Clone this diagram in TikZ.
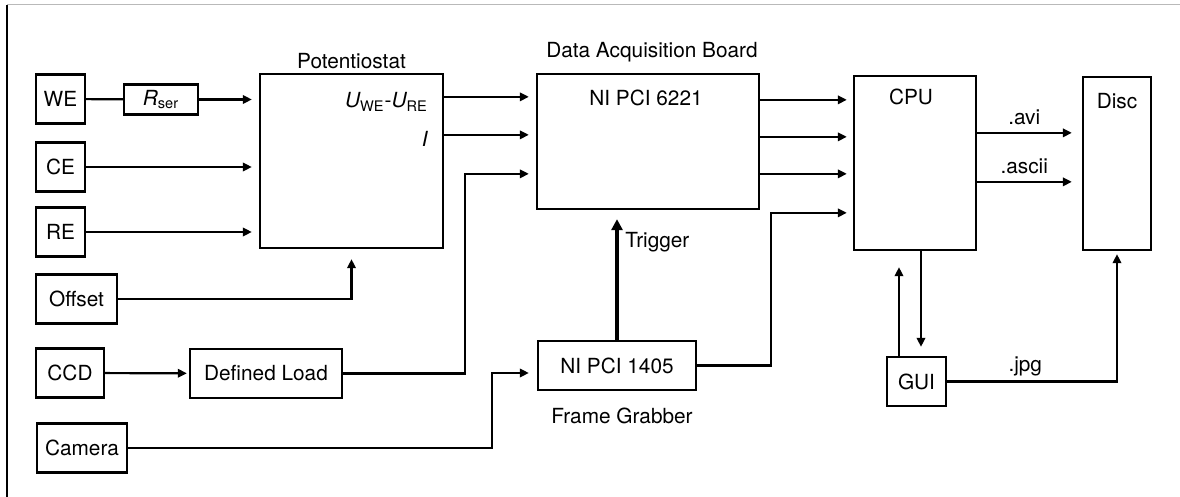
\documentclass[tikz,border=0pt]{standalone}
\usepackage{fontspec}
\setmainfont{TeX Gyre Heros}
\usepackage{tikz}
\usetikzlibrary{arrows.meta,positioning}

\begin{document}
\begin{tikzpicture}[
  x=0.5pt, y=-0.5pt,
  font=\fontsize{10.4}{12}\selectfont,
  box/.style={draw, line width=1.15pt, minimum height=24.5pt, inner sep=0pt},
  txt/.style={inner sep=0pt, text height=7.3pt, text depth=0pt},
  wire/.style={line width=1.1pt},
  arr/.style={-{Triangle[length=4.5pt,width=4.2pt]}, line width=1.1pt},
  trig/.style={-{Triangle[length=5.5pt,width=5.5pt]}, line width=2pt}
]
\useasboundingbox (0,0) rectangle (1180,497);
\draw[gray!55, line width=0.5pt] (7,5) -- (1180,5);
\draw[line width=0.6pt] (7,5) -- (7,497);

% inputs
\node[box, minimum width=24.5pt] (we) at (60.5,99) {WE};
\node[box, minimum width=37pt, minimum height=15pt] (rser) at (161,99.5) {{\itshape R}\textsubscript{ser}};
\node[box, minimum width=24.5pt] (ce) at (60.5,167) {CE};
\node[box, minimum width=24.5pt] (re) at (60.5,232) {RE};
\node[box, minimum width=40.5pt] (offset) at (76.5,299) {Offset};
\node[box, minimum width=34pt] (ccd) at (70,373) {CCD};
\node[box, minimum width=76pt] (load) at (266,373.5) {Defined Load};
\node[box, minimum width=45pt] (camera) at (82,448) {Camera};

% potentiostat
\node[box, minimum width=91.5pt, minimum height=87pt] (pot) at (351.5,161) {};
\node[txt, above=2pt of pot] (potlbl) {Potentiostat};
\node[txt, below left=10pt and 8pt of pot.north east] (uwe) {{\itshape U}\textsubscript{WE}-{\itshape U}\textsubscript{RE}};
\node[txt, below left=29.5pt and 8pt of pot.north east] (ilbl) {\itshape I};

% data acquisition
\node[box, minimum width=111pt, minimum height=67.5pt] (daq) at (648,141.5) {};
\node[txt, above=7.5pt of daq, xshift=2pt] (daqlbl) {Data Acquisition Board};
\node[txt, below=9pt of daq.north, xshift=-1pt] (daqname) {NI PCI 6221};
\node[box, minimum width=79pt] (fg) at (617,365.5) {NI PCI 1405};
\node[txt, below=8.5pt of fg, xshift=2.5pt] (fglbl) {Frame Grabber};
\node[txt, above right=46pt and 4pt of fg.north] (triglbl) {Trigger};

% computer
\node[box, minimum width=61pt, minimum height=87pt] (cpu) at (915,163) {};
\node[txt, below=7.5pt of cpu.north, xshift=-2pt] (cpulbl) {CPU};
\node[box, minimum width=34pt, minimum height=86.5pt] (disc) at (1117,163.5) {};
\node[txt, below=9pt of disc.north] (disclbl) {Disc};
\node[box, minimum width=29.5pt] (gui) at (916.5,381.5) {GUI};

\coordinate (uout) at ([yshift=-12pt]pot.north east);
\coordinate (iout) at ([yshift=-31pt]pot.north east);
\coordinate (ldin) at ([yshift=-50.5pt]daq.north west);
\coordinate (fgin) at ([yshift=-3.75pt]fg.west);
\coordinate (cpuin) at ([yshift=-69pt]cpu.north west);

\draw[wire] (we) -- (rser);
\draw[arr, shorten >=3.5pt] (rser) -- (rser -| pot.west);
\draw[arr, shorten >=3.5pt] (ce) -- (ce -| pot.west);
\draw[arr, shorten >=3.5pt] (re) -- (re -| pot.west);
\draw[arr, shorten >=5pt] (offset) -| (pot);
\draw[arr, shorten >=1pt] (ccd) -- (load);
\draw[arr, shorten >=3.5pt] (uout) -- (uout -| daq.west);
\draw[arr, shorten >=3.5pt] (iout) -- (iout -| daq.west);
\draw[arr, shorten >=3.5pt] (load) -| ([xshift=-35.5pt]ldin) -- (ldin);
\draw[arr, shorten >=4pt] (camera) -| ([xshift=-22.5pt]fgin) -- (fgin);
\draw[trig, shorten >=4.5pt] (fg) -- (fg |- daq.south);
\draw[arr, shorten >=3pt] ([yshift=-13.5pt]daq.north east) coordinate (d1) -- (d1 -| cpu.west);
\draw[arr, shorten >=3pt] ([yshift=-32pt]daq.north east) coordinate (d2) -- (d2 -| cpu.west);
\draw[arr, shorten >=3pt] ([yshift=-50.5pt]daq.north east) coordinate (d3) -- (d3 -| cpu.west);
\draw[arr, shorten >=3pt] (fg) -| ([xshift=-41pt]cpuin) -- (cpuin);
\draw[arr, shorten >=5pt] ([yshift=-29pt]cpu.north east) coordinate (c1)
  -- node[txt, above=3.5pt, pos=.45] (avi) {.avi} (c1 -| disc.west);
\draw[arr, shorten >=5pt] ([yshift=-53.5pt]cpu.north east) coordinate (c2)
  -- node[txt, above=3.5pt, pos=.45] (ascii) {.ascii} (c2 -| disc.west);
\draw[arr, shorten >=8pt] ([xshift=-8.75pt]gui.north) coordinate (g1) -- (g1 |- cpu.south);
\draw[arr, shorten >=4.5pt] ([xshift=3pt]cpu.south) coordinate (c3) -- (c3 |- gui.north);
\draw[arr, shorten >=1.5pt] (gui) -| node[txt, above=4.5pt, pos=.23] (jpg) {.jpg} (disc);
\end{tikzpicture}
\end{document}
